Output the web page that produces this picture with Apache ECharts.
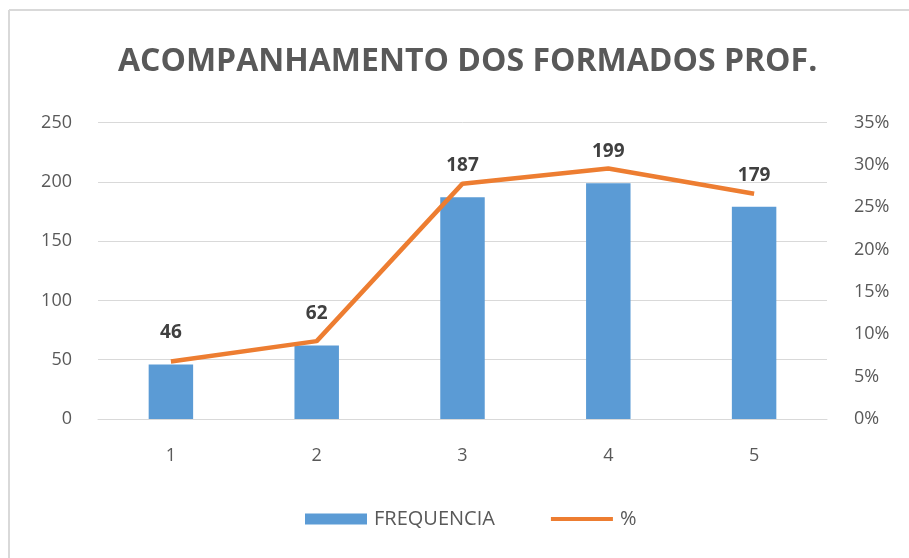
<!DOCTYPE html>
<html><head><meta charset="utf-8">
<script src="https://cdn.jsdelivr.net/npm/echarts@6/dist/echarts.min.js"></script>
<style>html,body{margin:0;padding:0;background:#fff}#c{width:909px;height:558px}</style>
</head><body><div id="c"></div>
<script>
const categories = ['1','2','3','4','5'];
const frequencia = [46, 62, 187, 199, 179];
const percent = [0.068, 0.092, 0.278, 0.296, 0.266];
const titleText = 'ACOMPANHAMENTO DOS FORMADOS PROF.';

const chart = echarts.init(document.getElementById('c'));
const font = '"Open Sans", "Noto Sans", sans-serif';
chart.setOption({
  animation: false,
  backgroundColor: '#fff',
  graphic: [
    {type:'line', shape:{x1:9, y1:10, x2:909, y2:10}, style:{stroke:'#d9d9d9', lineWidth:2}},
    {type:'line', shape:{x1:9, y1:10, x2:9, y2:558}, style:{stroke:'#d9d9d9', lineWidth:2}}
  ],
  title: {
    text: titleText, left: 113, top: 41,
    textStyle: {fontFamily: font, fontSize: 32, fontWeight: 'bold', color: '#595959'}
  },
  legend: {
    bottom: 24, left: 300, itemGap: 56,
    textStyle: {fontFamily: font, fontSize: 20, color: '#595959', padding: [0, 0, 0, 2]},
    data: [
      {name: 'FREQUENCIA', icon: 'rect', itemStyle: {color: '#5B9BD5'}},
      {name: '%', icon: 'path://M0,0H64V4H0Z', itemStyle: {color: '#ED7D31'}}
    ],
    itemWidth: 62, itemHeight: 11
  },
  grid: {left: 98, right: 82, top: 122.7, bottom: 139},
  xAxis: {
    type: 'category', data: categories,
    axisLine: {lineStyle: {color: '#d9d9d9'}}, axisTick: {show: false},
    axisLabel: {fontFamily: font, fontSize: 18, color: '#595959', margin: 28}
  },
  yAxis: [
    {type: 'value', min: 0, max: 250, interval: 50,
     axisLine: {show: false}, axisTick: {show: false},
     splitLine: {lineStyle: {color: '#d9d9d9'}},
     axisLabel: {fontFamily: font, fontSize: 18, color: '#595959', margin: 26}},
    {type: 'value', min: 0, max: 0.35, interval: 0.05,
     axisLine: {show: false}, axisTick: {show: false}, splitLine: {show: false},
     axisLabel: {fontFamily: font, fontSize: 18, color: '#595959', margin: 27,
       formatter: v => Math.round(v*100) + '%'}}
  ],
  series: [
    {name: 'FREQUENCIA', type: 'bar', data: frequencia, barWidth: '30.5%',
     itemStyle: {color: '#5B9BD5'},
     label: {show: true, position: 'top', distance: 22,
       fontFamily: font, fontSize: 19, fontWeight: 'bold', color: '#404040'}},
    {name: '%', type: 'line', yAxisIndex: 1, data: percent,
     symbol: 'none', lineStyle: {color: '#ED7D31', width: 4.5}, itemStyle: {color: '#ED7D31'}}
  ]
});
</script></body></html>
